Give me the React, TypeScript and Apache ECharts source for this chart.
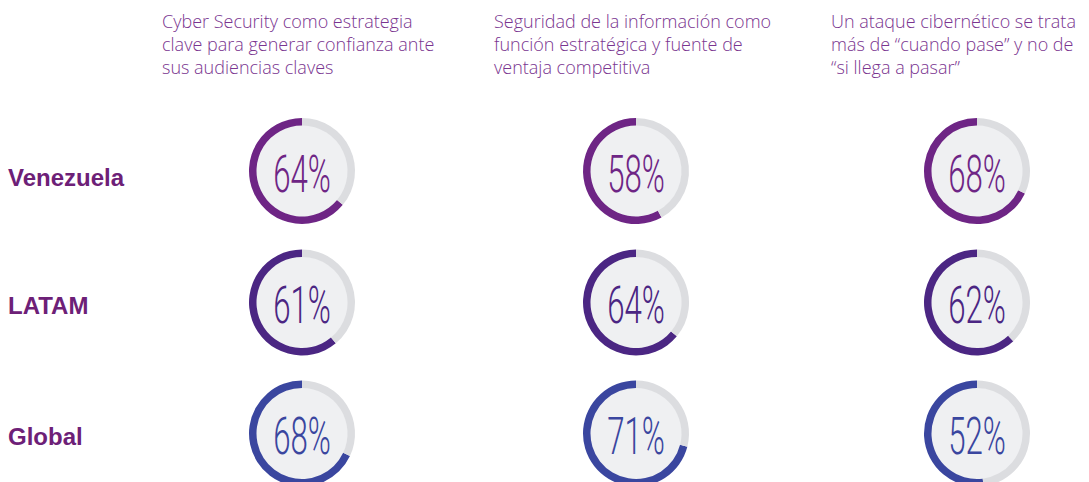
import React, { useEffect, useRef } from 'react';
import * as echarts from 'echarts';

// ---- data ----
const headers: string[][] = [
  ['Cyber Security como estrategia', 'clave para generar confianza ante', 'sus audiencias claves'],
  ['Seguridad de la información como', 'función estratégica y fuente de', 'ventaja competitiva'],
  ['Un ataque cibernético se trata', 'más de “cuando pase” y no de', '“si llega a pasar”'],
];
const regions: string[] = ['Venezuela', 'LATAM', 'Global'];
const venezuela: number[] = [64, 58, 68];
const latam: number[] = [61, 64, 62];
const global: number[] = [68, 71, 52];
const rows: number[][] = [venezuela, latam, global];

// ---- layout / style ----
const colX = [302, 636, 977];
const rowY = [171, 302.5, 433.5];
const labelY = [177.5, 305.5, 436];
const headerX = [162, 494, 831];
const rowColors = ['#6e2585', '#4b2683', '#3a469f'];
const trackColor = '#dcdde0';
const fillColor = '#eff0f2';
const labelColor = '#6d2077';
const headerColor = '#7a3590';

export default function App() {
  const ref = useRef<HTMLDivElement>(null);
  useEffect(() => {
    if (!ref.current) return;
    const chart = echarts.init(ref.current, undefined, { renderer: 'svg' });
    const series: any[] = [];
    const graphic: any[] = [];
    rows.forEach((vals, r) => {
      vals.forEach((v, c) => {
        const center = [colX[c], rowY[r]];
        series.push({
          type: 'pie',
          center,
          radius: [0, 46],
          silent: true,
          z: 1,
          label: { show: false },
          labelLine: { show: false },
          emphasis: { disabled: true },
          data: [{ value: 1, itemStyle: { color: fillColor } }],
        });
        series.push({
          type: 'pie',
          center,
          radius: [45.5, 53],
          startAngle: 90,
          clockwise: false,
          silent: true,
          z: 2,
          label: { show: false },
          labelLine: { show: false },
          emphasis: { disabled: true },
          data: [
            { value: v, itemStyle: { color: rowColors[r] } },
            { value: 100 - v, itemStyle: { color: trackColor } },
          ],
        });
        graphic.push({
          type: 'text',
          x: colX[c],
          y: rowY[r] + 2.5,
          scaleX: 0.6,
          silent: true,
          z: 100,
          style: {
            text: v + '%',
            font: '300 52px Roboto',
            fill: rowColors[r],
            align: 'center',
            verticalAlign: 'middle',
          },
        });
      });
      graphic.push({
        type: 'text',
        x: 8,
        y: labelY[r],
        silent: true,
        z: 100,
        style: {
          text: regions[r],
          font: 'bold 24px "Liberation Sans", Arial, sans-serif',
          fill: labelColor,
          align: 'left',
          verticalAlign: 'middle',
        },
      });
    });
    headers.forEach((lines, c) => {
      graphic.push({
        type: 'text',
        x: headerX[c],
        y: 9.5,
        silent: true,
        z: 100,
        style: {
          text: lines.join('\n'),
          font: '300 18px "Open Sans", sans-serif',
          lineHeight: 23,
          fill: headerColor,
          align: 'left',
          verticalAlign: 'top',
        },
      });
    });
    chart.setOption({
      animation: false,
      backgroundColor: '#ffffff',
      series,
      graphic,
    });
    return () => chart.dispose();
  }, []);
  return (
    <div
      ref={ref}
      style={{ position: 'fixed', left: 0, top: 0, width: 1089, height: 482 }}
    />
  );
}
